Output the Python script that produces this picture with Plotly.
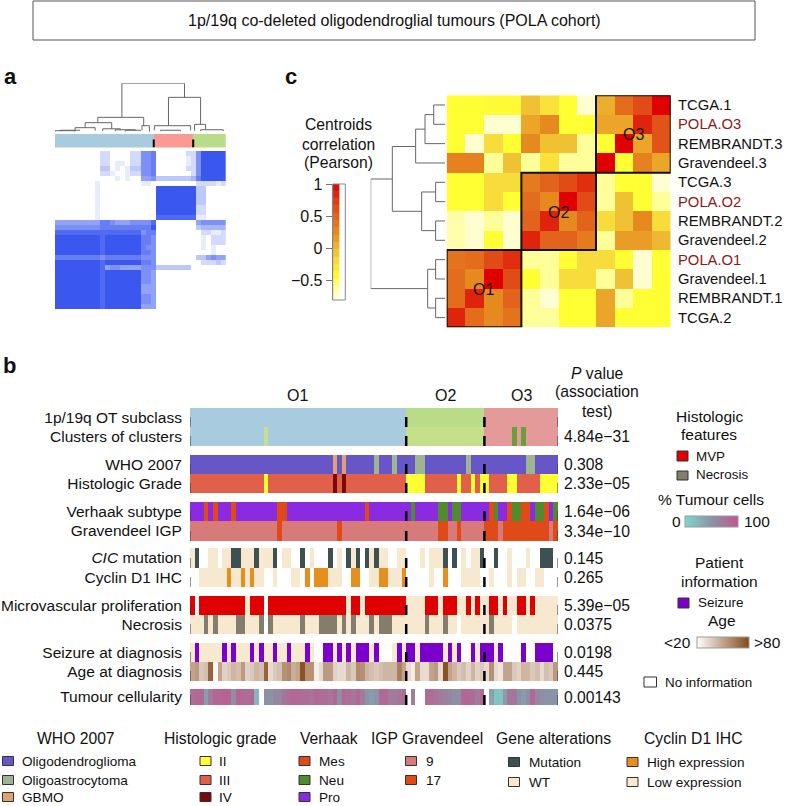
import plotly.graph_objs as go

W, H = 788, 806
FONT = 'Liberation Sans'
N_SAMPLES = 80

# panel c
CORR_LABELS = ['TCGA.1', 'POLA.O3', 'REMBRANDT.3', 'Gravendeel.3', 'TCGA.3', 'POLA.O2',
               'REMBRANDT.2', 'Gravendeel.2', 'POLA.O1', 'Gravendeel.1', 'REMBRANDT.1', 'TCGA.2']
CORR = [
    [-.45, -.45, -.42, -.42, -.05, -.25, -.45, -.75, .05, .45, .65, 1],
    [-.45, -.45, -.75, -.75, .1, .25, -.45, -.45, .1, .1, .85, .6],
    [-.45, -.75, -.2, -.45, .25, -.05, -.05, -.6, -.45, 1, .1, .6],
    [.3, .3, -.6, -.05, -.6, -.25, -.6, -.6, 1, -.45, .3, .1],
    [-.45, -.45, -.2, -.2, .35, .5, .65, .8, -.6, -.45, -.45, -.75],
    [-.45, -.45, -.2, -.45, .45, .25, 1, .65, -.6, -.05, -.45, -.6],
    [-.65, -.75, -.6, -.75, .5, .85, .25, .5, -.2, -.05, .25, -.2],
    [-.65, -.75, -.45, -.75, .85, .5, .5, .35, -.6, .15, .15, 0],
    [.4, .45, .65, .8, -.6, -.6, -.45, -.2, -.2, -.45, -.75, -.45],
    [.45, .25, 1, .65, -.45, -.6, -.2, -.2, -.6, -.05, -.75, -.45],
    [.45, .85, .25, .5, -.6, -.75, -.45, -.45, .1, -.6, -.45, -.45],
    [.85, .45, .25, .4, -.6, -.6, -.45, -.45, .1, -.45, -.45, -.45],
]
CORR_LEVELS = [-.75, -.64, -.53, -.41, -.3, -.19, -.07, .04, .16, .27, .39, .5, .61, .73, .84, .95]
# left row, right row, left height, right height, merge height
CORR_LINKS = [
    (0, 1, 0, 0, .152), (.5, 2, .152, 0, .269), (1.25, 3, .269, 0, .395),
    (4, 5, 0, 0, .126), (6, 7, 0, 0, .126), (4.5, 6.5, .126, .126, .314),
    (2.15, 5.5, .395, .314, .709),
    (8, 9, 0, 0, .126), (10, 11, 0, 0, .126), (8.5, 10.5, .126, .126, .233),
    (3.83, 9.5, .709, .233, 1),
]

# panel a, one char per cell, 0 to 9
CONSENSUS = [
    '00000000022000022667' + '00000022' + '699999',
    '00000000022000022667' + '00000012' + '699999',
    '00000000022011022667' + '00000012' + '699999',
    '00000000033010133667' + '00000022' + '699999',
    '00000000022100122667' + '00000002' + '699999',
    '00000000000010100556' + '33333334' + '799999',
    '00000000100000000110' + '00000000' + '222212',
    '00000000100000000000' + '99999999' + '330000',
    '00000000100000000000' + '99999999' + '330000',
    '00000000100000000000' + '99999999' + '330000',
    '00000000100000000000' + '99999999' + '330000',
    '00000000100000000000' + '99999999' + '220000',
    '00000000100000000000' + '99999999' + '220000',
    '00000000100000000000' + '88888888' + '110000',
    '55555555577655566668' + '00000000' + '566666',
    '66666666677777777779' + '00000000' + '344444',
    '88888888888888888677' + '00000000' + '022112',
    '99999999989999999776' + '00000000' + '010222',
    '99999999989999999776' + '00000000' + '010222',
    '99999999989999999766' + '00000000' + '010100',
    '99999999989999999776' + '00000000' + '000100',
    '77777777767777777666' + '00000000' + '335655',
    '99999999989999999776' + '00000000' + '022232',
    '99999999985665555666' + '33333330' + '000000',
    '99999999989999999665' + '00000000' + '000000',
    '99999999989999999665' + '00000000' + '000000',
    '99999999989999999665' + '00000000' + '000000',
    '99999999989999999555' + '00000000' + '000000',
    '99999999989999999555' + '00000000' + '000000',
    '99999999989999999665' + '00000000' + '000000',
    '99999999989999999665' + '00000000' + '000000',
    '99999999989999999555' + '00000000' + '000000',
]
CONSENSUS_EDGES = [0, 19.67, 27.53, 34]
# left col, right col, left height, right height, merge height
CONSENSUS_LINKS = [
    (13.33, 25.8, .297, .71, 1), (22.6, 29, .124, .152, .71), (8.53, 17.67, .186, .124, .297),
    (6, 11.3, .083, .06, .186), (4, 8, .03, .02, .083), (9.5, 13, .02, .03, .06),
    (1, 5, .01, .03, .03), (12, 16, .01, .02, .04), (17.33, 18.8, .03, 0, .124),
    (19.8, 27, .03, .03, .124), (21, 25, .01, .01, .03), (27.8, 30, .02, .04, .152),
    (29, 33.5, .01, .01, .04), (0, 4, 0, 0, .02), (14, 17, 0, .01, .03),
]

# panel b, sample indices per class
CLUSTER_COUNTS = [47, 17, 16]
CLUSTERS_O1_AS_O2 = [16]
CLUSTERS_O3_AS_NEU = [70, 72]
WHO_ASTRO = [40, 44, 49, 50, 60, 73, 74]
WHO_GBMO = [31, 33]
GRADE_II = [16, 47, 48, 49, 50, 58, 61, 63, 64, 69, 70, 76, 77, 78, 79]
GRADE_IV = [31, 33]
VERHAAK_MES = [3, 5, 9, 19, 20, 38, 65, 69, 72, 73, 77]
VERHAAK_NEU = [48, 54, 55, 57, 58, 66, 70, 71, 75, 76, 79]
IGP_17 = [19, 32, 54, 55, 58, 64, 65, 66, 68, 69, 70, 71, 72, 73, 74, 75, 76, 77, 79]
CIC_MUT = [1, 9, 10, 14, 18, 24, 30, 34, 36, 38, 40, 55, 57, 63, 66, 76, 77, 78]
CIC_WT = [0, 4, 5, 7, 8, 11, 12, 13, 15, 16, 17, 20, 21, 26, 32, 35, 39, 41, 42, 45, 46,
          50, 52, 53, 54, 59, 61, 62, 69, 73]
CYCLIN_HIGH = [8, 11, 13, 25, 27, 28, 29, 35, 36, 41, 42, 46, 55]
CYCLIN_LOW = [2, 3, 4, 5, 6, 7, 9, 10, 12, 14, 15, 18, 22, 23, 30, 31, 32, 39, 40, 43, 44, 45,
              52, 59, 60, 61, 62, 65, 69, 71, 72, 75, 76]
MVP_NO = [12, 34, 37, 47, 48, 49, 50, 54, 58, 59, 61, 63, 64, 67, 69, 70, 73, 75, 76, 77, 78, 79]
MVP_NA = [1, 16]
NECROSIS_YES = [3, 5, 10, 11, 15, 17, 24, 28, 29, 30, 31, 33, 35, 39, 41, 42, 43, 51, 55, 65]
NECROSIS_NA = [16, 58, 70]
SEIZURE_YES = [1, 7, 9, 13, 15, 18, 21, 25, 29, 30, 32, 34, 36, 37, 38, 40, 45, 47, 48, 50, 51, 52,
               53, 54, 56, 58, 61, 63, 64, 65, 67, 72, 75, 76, 77, 78]
SEIZURE_NA = [27, 28, 41, 42, 43, 59, 60, 68, 69, 70, 71, 73, 74, 79]
AGE = [.5, .55, .3, .35, .85, .05, .5, .25, .3, .4, .35, .55, .25, .3, .4, .35, .85, .2, .3, .35,
       .6, .65, .45, .5, .95, .6, .6, .1, .2, .55, .55, .25, .2, .2, .4, .3, .65, .6, .4, .35,
       .3, .35, .4, .4, .4, .7, .5, .2, .1, .5, .2, .2, .5, .55, .2, .95, .5, .4, .3, .35,
       .25, .4, .25, .3, .2, .6, .2, .15, .5, .5, .3, .25, .4, .4, .3, .35, .2, .35, .3, .55]
CELLULARITY = [78, 85, 85, 45, 70, 88, 85, 90, 90, 55, 88, 85, 80, 85, 25, None, 55, 50, 60, 60,
               75, 80, 85, 85, 80, 80, 75, 85, 80, 80, 75, 85, 55, 85, 80, 75, 85, 70, 50, 45,
               50, 85, 85, 70, 70, 75, 80, None, 65, None, None, 80, 80, 75, 70, 65, 60, 55, 55, 85,
               85, 80, 70, 85, None, 40, 15, 15, 45, 75, 75, 50, 45, 55, 85, 60, 55, 50, 50, 50]

TRACK_LABELS = ['1p/19q OT subclass', 'Clusters of clusters', 'WHO 2007', 'Histologic Grade',
                'Verhaak subtype', 'Gravendeel IGP', '<i>CIC</i> mutation', 'Cyclin D1 IHC',
                'Microvascular proliferation', 'Necrosis', 'Seizure at diagnosis', 'Age at diagnosis',
                'Tumour cellularity']
P_VALUES = ['', '4.84e\u221231', '0.308', '2.33e\u221205', '1.64e\u221206', '3.34e\u221210', '0.145',
            '0.265', '5.39e\u221205', '0.0375', '0.0198', '0.445', '0.00143']

BLUE, GREEN, PINK = '#a9cbe0', '#b8dc88', '#e59a9a'
OLIGO, ASTRO, GBMO = '#6656c8', '#9db68f', '#e0a070'
YELLOW, TOMATO, MAROON = '#ffff33', '#e0604a', '#7a0a0a'
MES, NEU, PRO = '#e04a16', '#4f8c2e', '#8a2be2'
IGP9 = '#d87a7a'
DARK, CREAM, AMBER = '#3d5052', '#f7e9cf', '#e68e1e'
RED, TAUPE, VIOLET = '#e00000', '#857d6b', '#7a00cc'
CORR_SCALE = [[0, '#fffee6'], [.116, '#ffff99'], [.199, '#ffff33'], [.337, '#f7dc3c'], [.448, '#eeb830'],
              [.586, '#e68a20'], [.724, '#e2641c'], [.862, '#e03a12'], [1, '#e00000']]
AGE_SCALE = [[0, '#ffffff'], [1, '#85481a']]
CELL_SCALE = [[0, '#7fd8cc'], [.5, '#8a94a8'], [1, '#c2558c']]

# top and bottom pixel of each track
TRACK_EDGES = [(408, 427), (427, 446), (455, 474), (474, 493), (502, 521), (521, 541),
               (548, 568), (568, 587), (596, 615), (615, 634), (643, 662), (662, 681),
               (689, 705)]


def dom_x(a, b):
    return [a / W, b / W]


def dom_y(top, bottom):
    return [1 - bottom / H, 1 - top / H]


def track(base, groups):
    row = [base] * N_SAMPLES
    for code, idx in groups:
        for i in idx:
            row[i] = code
    return row


def steps(colors):
    n = len(colors)
    out = []
    for i, c in enumerate(colors):
        out += [[i / n, c], [(i + 1) / n, c]]
    return out


def link_lines(links):
    pos, height = [], []
    for a, b, ha, hb, top in links:
        pos += [a, a, b, b, None]
        height += [ha, top, top, hb, None]
    return pos, height


fig = go.Figure()

# c: correlation heatmap, dendrogram, colour key
fig.add_trace(go.Heatmap(z=CORR, colorscale=CORR_SCALE, zmin=-.81, zmax=1, showscale=False,
                         hoverinfo='skip', xaxis='x', yaxis='y'))
corr_rows, corr_heights = link_lines(CORR_LINKS)
fig.add_trace(go.Scatter(x=corr_heights, y=corr_rows, xaxis='x2', yaxis='y2', mode='lines',
                         line=dict(color='#666', width=1), hoverinfo='skip', showlegend=False))
fig.add_trace(go.Heatmap(z=[[v] for v in CORR_LEVELS], y=CORR_LEVELS, colorscale=CORR_SCALE, zmin=-.81, zmax=1,
                         showscale=False, hoverinfo='skip', xaxis='x3', yaxis='y3'))

# a: consensus matrix
fig.add_trace(go.Heatmap(z=[[int(c) for c in row] for row in CONSENSUS],
                         x=list(range(len(CONSENSUS[0]) + 1)), y=list(range(len(CONSENSUS) + 1)),
                         colorscale=[[0, '#ffffff'], [1, '#3a58f0']], zmin=0, zmax=9, showscale=False,
                         hoverinfo='skip', xaxis='x4', yaxis='y4'))
fig.add_trace(go.Heatmap(z=[[0, 1, 2]], x=CONSENSUS_EDGES, y=[0, 1], zmin=-.5, zmax=2.5,
                         colorscale=steps([BLUE, '#fb9a94', GREEN]), showscale=False,
                         hoverinfo='skip', xaxis='x4', yaxis='y5'))
for edge in CONSENSUS_EDGES[1:3]:
    fig.add_trace(go.Scatter(x=[edge, edge], y=[0, .6], xaxis='x4', yaxis='y5', mode='lines',
                             line=dict(color='black', width=2), hoverinfo='skip', showlegend=False))
cons_cols, cons_heights = link_lines(CONSENSUS_LINKS)
fig.add_trace(go.Scatter(x=cons_cols, y=cons_heights, xaxis='x4', yaxis='y6', mode='lines',
                         line=dict(color='#666', width=1), hoverinfo='skip', showlegend=False))

# b: annotation tracks
o1, o2, o3 = CLUSTER_COUNTS
subclass = [0] * o1 + [1] * o2 + [2] * o3
clusters = list(subclass)
for i in CLUSTERS_O1_AS_O2:
    clusters[i] = 1
for i in CLUSTERS_O3_AS_NEU:
    clusters[i] = 3

categorical = [
    (0, subclass, [BLUE, GREEN, PINK]),
    (1, clusters, [BLUE, '#c4e08a', PINK, '#6a9e3c']),
    (2, track(0, [(1, WHO_ASTRO), (2, WHO_GBMO)]), [OLIGO, ASTRO, GBMO]),
    (3, track(1, [(0, GRADE_II), (2, GRADE_IV)]), [YELLOW, TOMATO, MAROON]),
    (4, track(2, [(0, VERHAAK_MES), (1, VERHAAK_NEU)]), [MES, NEU, PRO]),
    (5, track(0, [(1, IGP_17)]), [IGP9, MES]),
    (6, track(None, [(0, CIC_MUT), (1, CIC_WT)]), [DARK, CREAM]),
    (7, track(None, [(0, CYCLIN_HIGH), (1, CYCLIN_LOW)]), [AMBER, CREAM]),
    (8, track(0, [(1, MVP_NO), (None, MVP_NA)]), [RED, CREAM]),
    (9, track(1, [(0, NECROSIS_YES), (None, NECROSIS_NA)]), [TAUPE, CREAM]),
    (10, track(1, [(0, SEIZURE_YES), (None, SEIZURE_NA)]), [VIOLET, CREAM]),
]
sample_edges = list(range(N_SAMPLES + 1))
for row, values, colors in categorical:
    fig.add_trace(go.Heatmap(z=[values], x=sample_edges, y=list(TRACK_EDGES[row]), zmin=-.5, zmax=len(colors) - .5,
                             colorscale=steps(colors), showscale=False, hoverinfo='skip', xaxis='x7', yaxis='y7'))

fig.add_trace(go.Heatmap(z=[AGE], x=sample_edges, y=list(TRACK_EDGES[11]), zmin=0, zmax=1, colorscale=AGE_SCALE,
                         hoverinfo='skip', xaxis='x7', yaxis='y7',
                         colorbar=dict(orientation='h', x=696.7 / W, xanchor='left', y=1 - 636.7 / H, yanchor='top',
                                       lenmode='pixels', len=51.6, thicknessmode='pixels', thickness=11,
                                       xpad=0, ypad=0, showticklabels=False, ticks='', outlinecolor='#999',
                                       outlinewidth=1)))
fig.add_trace(go.Heatmap(z=[CELLULARITY], x=sample_edges, y=list(TRACK_EDGES[12]), zmin=0, zmax=100,
                         colorscale=CELL_SCALE, hoverinfo='skip', xaxis='x7', yaxis='y7',
                         colorbar=dict(orientation='h', x=685 / W, xanchor='left', y=1 - 515.7 / H, yanchor='top',
                                       lenmode='pixels', len=52.7, thicknessmode='pixels', thickness=11,
                                       xpad=0, ypad=0, showticklabels=False, ticks='', outlinecolor='#999',
                                       outlinewidth=1)))

# dashes at the cluster borders, bottom half of each track
boundaries = [0, o1, o1 + o2, o1 + o2 + o3]
for i, b in enumerate(boundaries):
    xs, ys = [], []
    for top, bottom in TRACK_EDGES:
        xs += [b, b, None]
        ys += [bottom - 10, bottom, None]
    inner = i in (1, 2)
    fig.add_trace(go.Scatter(x=xs, y=ys, xaxis='x7', yaxis='y7', mode='lines', hoverinfo='skip', showlegend=False,
                             line=dict(color='black' if inner else '#333', width=2.5 if inner else 1)))

# boxes on the correlation heatmap
shapes = []
for x0, x1, y0, y1 in [(-.5, 3.5, 7.5, 11.5), (3.5, 7.5, 3.5, 7.5), (7.5, 11.5, -.5, 3.5)]:
    shapes.append(dict(type='rect', xref='x', yref='y', x0=x0, x1=x1, y0=y0, y1=y1,
                       line=dict(color='#111', width=2)))


def page_rect(x0, y0, x1, y1, fill, edge='#333', width=1):
    shapes.append(dict(type='rect', xref='paper', yref='paper', x0=x0 / W, x1=x1 / W, y0=1 - y0 / H, y1=1 - y1 / H,
                       fillcolor=fill, line=dict(color=edge, width=width)))


notes = []


def note(x, y, text, size=15.7, anchor='center', color='#111'):
    notes.append(dict(xref='paper', yref='paper', x=x / W, y=1 - y / H, text=text, showarrow=False,
                      xanchor=anchor, yanchor='middle', font=dict(size=size, color=color, family=FONT)))


page_rect(33, 1, 755, 40, 'rgba(0,0,0,0)', '#555', 1)
page_rect(332.7, 184, 345.3, 300, 'rgba(0,0,0,0)', '#888', 1)
note(394, 20, '1p/19q co-deleted oligodendroglial tumours (POLA cohort)', 16)
note(2, 76, '<b>a</b>', 22, 'left')
note(283, 77, '<b>c</b>', 22, 'left')
note(1, 366, '<b>b</b>', 22, 'left')
note(338, 125, 'Centroids')
note(338, 144, 'correlation')
note(338, 163, '(Pearson)')

for i, name in enumerate(CORR_LABELS):
    note(676, 95.3 + (i + .5) * 232 / 12, name, 14.8, 'left', '#8b1a1a' if name.startswith('POLA') else '#111')
note(483, 290, 'O1', 16)
note(558, 212, 'O2', 16)
note(633, 134, 'O3', 16)

note(297, 395, 'O1', 16)
note(445, 395, 'O2', 16)
note(521, 395, 'O3', 16)
note(597, 373, '<i>P</i> value')
note(597, 392, '(association')
note(597, 411, 'test)')
for (top, bottom), p in zip(TRACK_EDGES, P_VALUES):
    if p:
        note(562, (top + bottom) / 2, p, 15.7, 'left')

# right legends
note(709, 416, 'Histologic', 15.5)
note(709, 434, 'features', 15.5)
page_rect(677, 451, 688, 461, RED)
note(694, 456, 'MVP', 13.4, 'left')
page_rect(677, 471, 688, 480, TAUPE)
note(694, 475, 'Necrosis', 13.4, 'left')
note(711, 499, '% Tumour cells', 15.5)
note(676, 521, '0', 15.5)
note(742, 521, '100', 15.5, 'left')
note(719, 562, 'Patient', 15.5)
note(719, 581, 'information', 15.5)
page_rect(678, 598, 689, 608, VIOLET)
note(696, 602, 'Seizure', 13.4, 'left')
note(722, 620, 'Age', 15.5)
note(693, 642, '<20', 15.5, 'right')
note(752, 642, '>80', 15.5, 'left')
page_rect(644, 677, 656.5, 687, 'white')
note(663, 682, 'No information', 13.4, 'left')

# bottom legends
LEGENDS = [
    ('WHO 2007', 76, 2.5, 20, [('Oligodendroglioma', OLIGO), ('Oligoastrocytoma', ASTRO), ('GBMO', GBMO)], [761, 780, 797]),
    ('Histologic grade', 221, 200, 217, [('II', YELLOW), ('III', TOMATO), ('IV', MAROON)], [761, 780, 797]),
    ('Verhaak', 329, 299, 317, [('Mes', MES), ('Neu', NEU), ('Pro', PRO)], [761, 780, 797]),
    ('IGP Gravendeel', 427, 405.5, 424, [('9', IGP9), ('17', MES)], [761, 780]),
    ('Gene alterations', 553, 508.5, 527, [('Mutation', DARK), ('WT', CREAM)], [762, 782]),
    ('Cyclin D1 IHC', 693, 627, 645, [('High expression', AMBER), ('Low expression', CREAM)], [762, 782]),
]
for title, cx, sx, tx, items, rows in LEGENDS:
    note(cx, 738, title, 15.7)
    for (name, color), y in zip(items, rows):
        page_rect(sx, y - 4.5, sx + 11, y + 4.5, color)
        note(tx, y, name, 13.6, 'left')

layout_axes = dict(
    xaxis=dict(domain=dom_x(446.7, 670.7), range=[-.5, 11.5], visible=False),
    yaxis=dict(domain=dom_y(95.3, 327.3), range=[11.5, -.5], visible=False),
    xaxis2=dict(domain=dom_x(370.7, 445), range=[1, 0], visible=False, anchor='y2'),
    yaxis2=dict(domain=dom_y(95.3, 327.3), range=[11.5, -.5], visible=False, anchor='x2'),
    xaxis3=dict(domain=dom_x(332.7, 345.3), range=[0, 1], visible=False, anchor='y3'),
    yaxis3=dict(domain=dom_y(184, 300), range=[-.81, 1], anchor='x3', tickvals=[-.5, 0, .5, 1],
                ticktext=['\u22120.5', '0', '0.5', '1'], ticks='outside', ticklen=6, tickcolor='#777',
                showline=True, linecolor='#777', showgrid=False, zeroline=False,
                tickfont=dict(size=16, color='#111', family=FONT)),
    xaxis4=dict(domain=dom_x(55, 225.7), range=[0, 34], visible=False, anchor='y4'),
    yaxis4=dict(domain=dom_y(151, 309), range=[32, 0], visible=False, anchor='x4'),
    yaxis5=dict(domain=dom_y(134, 147.5), range=[0, 1], visible=False, anchor='x4'),
    yaxis6=dict(domain=dom_y(83.3, 131.7), range=[0, 1], visible=False, anchor='x4'),
    xaxis7=dict(domain=dom_x(190, 558), range=[0, N_SAMPLES], visible=False, anchor='y7'),
    yaxis7=dict(domain=[0, 1], range=[H, 0], anchor='x7', showgrid=False, zeroline=False, showline=False,
                tickvals=[(t + b) / 2 for t, b in TRACK_EDGES], ticktext=TRACK_LABELS, ticks='outside',
                ticklen=4, tickcolor='rgba(0,0,0,0)', tickfont=dict(size=15.5, color='#111', family=FONT)),
)

fig.update_layout(width=W, height=H, margin=dict(l=0, r=0, t=0, b=0, autoexpand=False), autosize=False,
                  plot_bgcolor='rgba(0,0,0,0)', paper_bgcolor='white', showlegend=False,
                  font=dict(family=FONT), shapes=shapes, annotations=notes, **layout_axes)
fig.write_html("out.html", config={'displayModeBar': False}, post_script="document.body.style.margin='0';")
